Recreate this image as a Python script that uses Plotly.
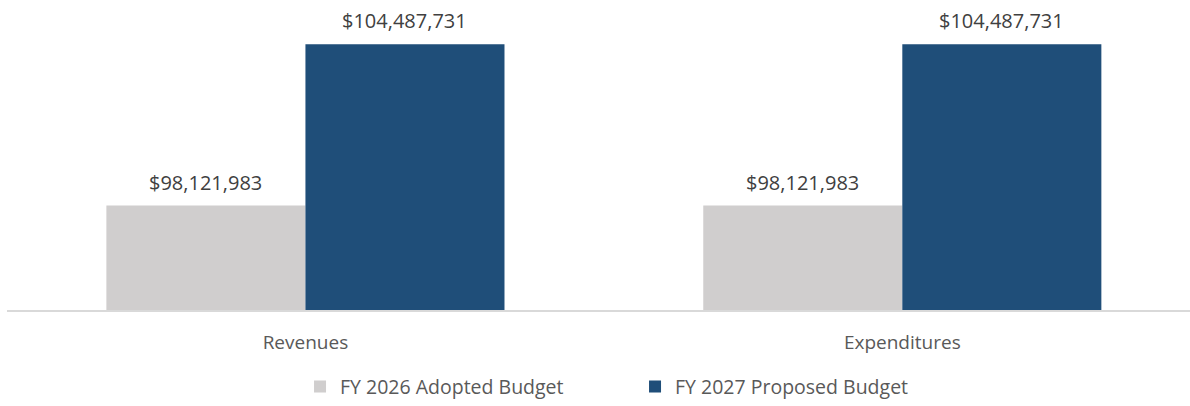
import plotly.graph_objects as go

# Budget comparison by category
categories = ["Revenues", "Expenditures"]
fy2026_adopted = [98121983, 98121983]
fy2027_proposed = [104487731, 104487731]

series_names = ["FY 2026 Adopted Budget", "FY 2027 Proposed Budget"]
series_colors = ["#D0CECE", "#1F4E79"]
series_values = [fy2026_adopted, fy2027_proposed]

FONT = "Open Sans"
BARGAP = 0.333

fig = go.Figure()
for name, values, color in zip(series_names, series_values, series_colors):
    fig.add_trace(go.Bar(
        name=name,
        x=categories,
        y=values,
        marker=dict(color=color, line=dict(width=0)),
        hoverinfo="x+y+name",
    ))

# value labels above each bar, placed at the grouped-bar centres
n_series = len(series_values)
bar_w = (1 - BARGAP) / n_series
annotations = []
for s, values in enumerate(series_values):
    offset = -0.5 * (1 - BARGAP) + bar_w * (s + 0.5)
    for i, v in enumerate(values):
        annotations.append(dict(
            x=i + offset, y=v, xref="x", yref="y",
            text=f"${v:,.0f}",
            showarrow=False,
            yanchor="bottom",
            yshift=8,
            font=dict(family=FONT, size=20, color="#404040"),
        ))

fig.update_layout(
    width=1190,
    height=406,
    barmode="group",
    bargap=BARGAP,
    bargroupgap=0,
    plot_bgcolor="white",
    paper_bgcolor="white",
    margin=dict(l=7, r=0, t=6, b=96, autoexpand=False),
    font=dict(family=FONT, color="#595959"),
    annotations=annotations,
    legend=dict(
        orientation="h",
        x=0.2477, xanchor="left",
        y=-0.253, yanchor="middle",
        entrywidth=290,
        entrywidthmode="pixels",
        font=dict(family=FONT, size=19.5, color="#595959"),
        traceorder="normal",
    ),
    xaxis=dict(
        range=[-0.5, 1.482],
        showline=True,
        linecolor="#D9D9D9",
        linewidth=2,
        showgrid=False,
        ticks="",
        ticklabelstandoff=14,
        tickfont=dict(family=FONT, size=19, color="#595959"),
    ),
    yaxis=dict(
        range=[94000000, 106000000],
        visible=False,
        showgrid=False,
        zeroline=False,
    ),
)

fig.write_html("out.html")
